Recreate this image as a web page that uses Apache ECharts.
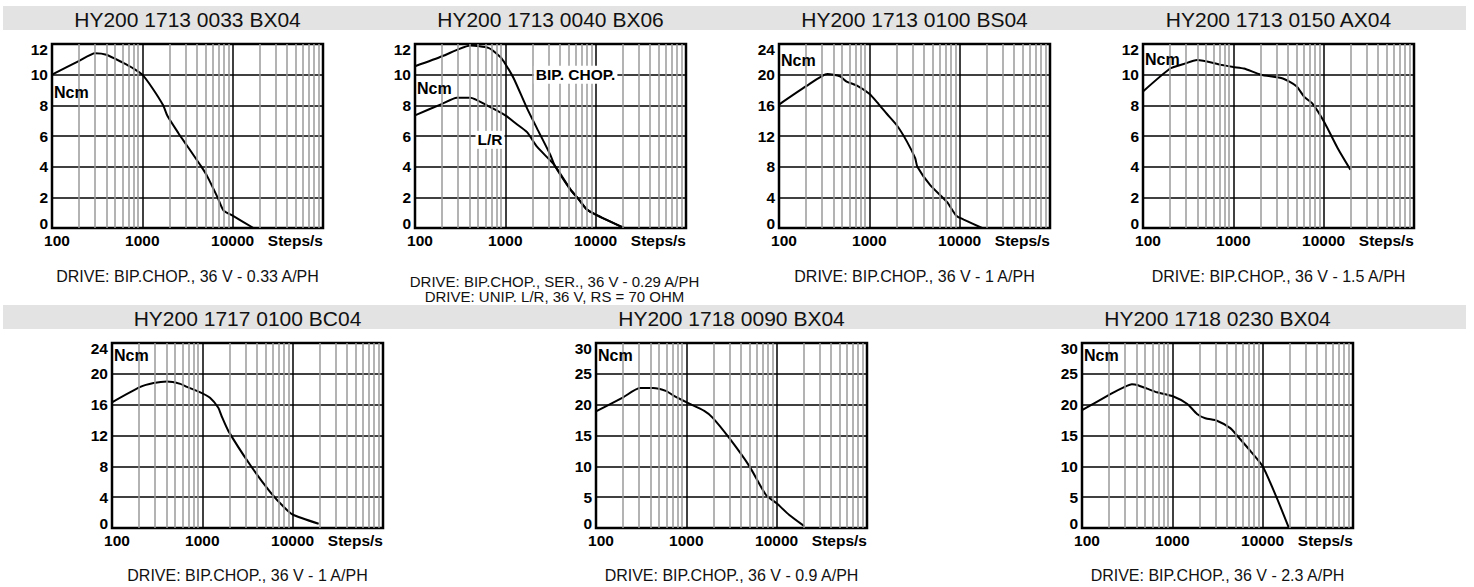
<!DOCTYPE html>
<html><head><meta charset="utf-8">
<script src="https://cdn.jsdelivr.net/npm/echarts@6/dist/echarts.min.js"></script>
<style>html,body{margin:0;padding:0;background:#fff}#c{width:1474px;height:587px}</style>
</head><body><div id="c"></div>
<script>
// ---- texts ----
const titles = ['HY200 1713 0033 BX04','HY200 1713 0040 BX06','HY200 1713 0100 BS04','HY200 1713 0150 AX04',
  'HY200 1717 0100 BC04','HY200 1718 0090 BX04','HY200 1718 0230 BX04'];
const captions = ['DRIVE: BIP.CHOP., 36 V - 0.33 A/PH',
  'DRIVE: BIP.CHOP., SER., 36 V - 0.29 A/PH\nDRIVE: UNIP. L/R, 36 V, RS = 70 OHM',
  'DRIVE: BIP.CHOP., 36 V - 1 A/PH','DRIVE: BIP.CHOP., 36 V - 1.5 A/PH',
  'DRIVE: BIP.CHOP., 36 V - 1 A/PH','DRIVE: BIP.CHOP., 36 V - 0.9 A/PH','DRIVE: BIP.CHOP., 36 V - 2.3 A/PH'];
const xTickValues = [100, 1000, 10000, 100000];
const xTickText = ['100', '1000', '10000', 'Steps/s'];
const minorTicks = [200,300,400,500,600,700,800,900,2000,3000,4000,5000,6000,7000,8000,9000,
  20000,30000,40000,50000,60000,70000,80000,90000];
const yMax = [12, 12, 24, 12, 24, 30, 30];
const yStep = [2, 2, 4, 2, 4, 5, 5];
const unitLabel = 'Ncm';
const unitY = [8.85, 9.1, 21.9, 11.0, 22.4, 27.9, 27.9];

// ---- data (steps/s, Ncm) ----
const p1x = [100, 200, 300, 400, 600, 800, 1000, 1300, 1700, 1900, 2500, 3100, 4500, 5200, 6800, 7900, 10000, 17000];
const p1y = [10.0, 10.9, 11.4, 11.3, 10.8, 10.4, 10.0, 9.1, 8.0, 7.3, 6.2, 5.4, 4.0, 3.4, 2.0, 1.15, 0.8, 0];

const p2bx = [100, 200, 300, 410, 650, 880, 1000, 1240, 1740, 2240, 3160, 3500, 5270, 6530, 8000, 10000, 20600];
const p2by = [10.55, 11.2, 11.65, 11.9, 11.75, 11.15, 10.7, 9.75, 7.8, 6.5, 4.75, 4.1, 2.5, 1.85, 1.2, 0.87, 0];
const p2lx = [100, 200, 290, 410, 625, 1000, 1320, 1740, 2240, 3500, 5270, 6530, 8000, 10000, 20600];
const p2ly = [7.35, 8.1, 8.5, 8.5, 8.0, 7.35, 6.8, 6.25, 5.3, 4.1, 2.5, 1.85, 1.2, 0.87, 0];
const p2labels = ['BIP. CHOP.', 'L/R'];
const p2labelX = [6000, 676];
const p2labelY = [10, 5.75];

const p3x = [100, 200, 344, 472, 560, 722, 1000, 1260, 1560, 2014, 2600, 3217, 3400, 4720, 7230, 9180, 11100, 17700];
const p3y = [16.1, 18.5, 20.1, 19.8, 19.1, 18.6, 17.5, 16.2, 14.9, 13.4, 11.3, 9.1, 8.0, 5.6, 3.4, 1.6, 1.1, 0];

const p4x = [100, 200, 283, 398, 722, 1000, 1310, 2014, 3530, 5000, 6100, 7550, 10170, 14300, 19770];
const p4y = [8.9, 10.4, 10.7, 10.95, 10.65, 10.5, 10.4, 10.0, 9.75, 9.25, 8.55, 8.1, 6.9, 5.2, 3.8];

const p5x = [100, 206, 289, 406, 570, 676, 950, 1216, 1503, 1636, 1940, 3375, 5620, 7940, 10000, 19400];
const p5y = [16.3, 18.3, 18.8, 19.0, 18.7, 18.3, 17.6, 16.9, 15.6, 14.5, 12.6, 8.2, 4.7, 2.75, 1.75, 0.55];

const p6x = [100, 200, 305, 428, 603, 714, 1000, 1580, 1950, 2980, 5000, 7620, 10000, 13800, 20200];
const p6y = [18.9, 21.2, 22.7, 22.7, 22.2, 21.5, 20.4, 19.0, 17.9, 14.6, 10.0, 5.35, 4.0, 2.1, 0.3];

const p7x = [100, 206, 289, 357, 407, 525, 676, 1000, 1466, 1876, 2318, 3120, 4385, 5200, 7300, 10000, 14400, 19400];
const p7y = [19.1, 21.7, 22.8, 23.3, 23.2, 22.6, 22.0, 21.4, 20.1, 18.5, 17.8, 17.4, 16.2, 15.0, 12.5, 10.0, 4.8, 0.1];

const curves = [
  [[p1x, p1y]],
  [[p2bx, p2by], [p2lx, p2ly]],
  [[p3x, p3y]],
  [[p4x, p4y]],
  [[p5x, p5y]],
  [[p6x, p6y]],
  [[p7x, p7y]]
];

// ---- layout ----
const FONT = '"Liberation Sans", Arial, Helvetica, sans-serif';
const gridLeft = [52, 415, 779, 1143, 112, 596, 1082];
const gridTop = [44, 44, 44, 44, 343, 343, 343];
const gridW = 271;
const gridH = [184, 184, 184, 184, 185, 185, 185];
const titleY = [19, 19, 19, 19, 318, 318, 318];
const captionY = [276, 288.5, 276, 276, 575, 575, 575];
const captionSize = [16, 15, 16, 16, 16, 16, 16];
const bandY = [6, 305];

const zip = (xs, ys) => xs.map((x, i) => [x, ys[i]]);
const labelFont = {fontFamily: FONT, fontWeight: 'bold', fontSize: 15.5, color: '#000'};

const grids = [], xAxes = [], yAxes = [], series = [], graphics = [];

bandY.forEach(y => graphics.push({type: 'rect', shape: {x: 3, y: y, width: 1463, height: 24},
  style: {fill: '#e3e3e3'}, silent: true, z: -10}));

for (let i = 0; i < 7; i++) {
  grids.push({left: gridLeft[i], top: gridTop[i], width: gridW, height: gridH[i],
    show: true, borderColor: '#000', borderWidth: 2.5, backgroundColor: 'transparent'});
  xAxes.push({type: 'log', logBase: 10, gridIndex: i, min: 100, max: 100000,
    axisLine: {show: false}, axisTick: {show: false},
    splitLine: {show: true, lineStyle: {color: '#000', width: 1.5}},
    axisLabel: Object.assign({}, labelFont, {margin: 4, interval: 0, showMinLabel: true, showMaxLabel: true,
      alignMaxLabel: 'right',
      formatter: v => {
        const k = xTickValues.findIndex(t => Math.abs(t - v) / t < 1e-6);
        const s = k >= 0 ? xTickText[k] : '';
        return k === 0 ? '{lf|' + s + '}' : s;
      },
      rich: {lf: Object.assign({}, labelFont, {padding: [0, 0, 0, 10]})}
    })
  });
  const mx = yMax[i];
  yAxes.push({type: 'value', gridIndex: i, min: 0, max: mx, interval: yStep[i],
    axisLine: {show: false}, axisTick: {show: false},
    splitLine: {show: true, lineStyle: {color: '#000', width: 1.5}},
    axisLabel: Object.assign({}, labelFont, {margin: 4,
      formatter: v => v === 0 ? '{lo|0}' : (v === mx ? '{hi|' + v + '}' : String(v)),
      rich: {lo: Object.assign({}, labelFont, {padding: [0, 0, 10, 0]}),
             hi: Object.assign({}, labelFont, {padding: [10, 0, 0, 0]})}
    })
  });
  // minor vertical grid lines
  series.push({type: 'line', xAxisIndex: i, yAxisIndex: i, data: [], silent: true, z: 1,
    markLine: {silent: true, symbol: ['none', 'none'], label: {show: false}, animation: false,
      lineStyle: {color: '#9a9a9a', width: 1.5, type: 'solid'},
      data: minorTicks.map(t => ({xAxis: t}))}
  });
  curves[i].forEach((c, j) => {
    const s = {type: 'line', xAxisIndex: i, yAxisIndex: i, data: zip(c[0], c[1]),
      symbol: 'none', smooth: 0.2, z: 3, lineStyle: {color: '#000', width: 2}};
    if (j === 0) {
      const mp = [{coord: [100, unitY[i]], value: unitLabel,
        label: Object.assign({}, labelFont, {show: true, position: 'right', distance: 2, fontSize: 16, formatter: unitLabel})}];
      if (i === 1) {
        p2labels.forEach((t, k) => mp.push({coord: [p2labelX[k], p2labelY[k]], value: t,
          label: Object.assign({}, labelFont, {show: true, position: 'inside', fontSize: 15.5, formatter: t,
            backgroundColor: '#fff', padding: [1, 2]})}));
      }
      s.markPoint = {symbol: 'circle', symbolSize: 0, silent: true, animation: false, data: mp};
    }
    series.push(s);
  });
  const cx = gridLeft[i] + gridW / 2;
  graphics.push({type: 'text', x: cx, y: titleY[i], silent: true, z: 10,
    style: {text: titles[i], x: 0, y: 0, textAlign: 'center', textVerticalAlign: 'middle',
      font: '21px ' + FONT, fill: '#111'}});
  graphics.push({type: 'text', x: cx + (i === 1 ? 4 : 0), y: captionY[i], silent: true, z: 10,
    style: {text: captions[i], x: 0, y: 0, textAlign: 'center', textVerticalAlign: 'middle',
      font: captionSize[i] + 'px ' + FONT, fill: '#111', lineHeight: 15}});
}

const chart = echarts.init(document.getElementById('c'), null, {renderer: 'svg'});
chart.setOption({
  animation: false,
  grid: grids, xAxis: xAxes, yAxis: yAxes, series: series, graphic: graphics
});
</script></body></html>
